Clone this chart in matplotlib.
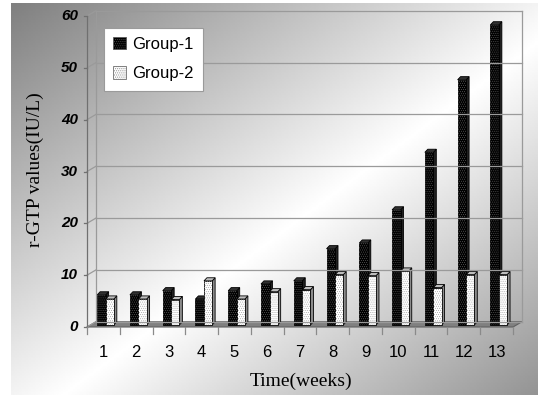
import numpy as np
import matplotlib
matplotlib.use("Agg")
from matplotlib import pyplot as plt
from matplotlib.patches import Polygon, Rectangle, Patch

plt.rcParams['hatch.linewidth'] = 0.4

weeks = [1, 2, 3, 4, 5, 6, 7, 8, 9, 10, 11, 12, 13]
group1 = [5.8, 5.8, 6.6, 5.0, 6.6, 7.9, 8.5, 14.7, 15.8, 22.2, 33.3, 47.3, 57.9]
group2 = [5.0, 5.0, 4.9, 8.5, 5.0, 6.4, 6.8, 9.7, 9.5, 10.4, 7.2, 9.7, 9.7]
yticks = [0, 10, 20, 30, 40, 50, 60]

W, H = 538, 395
# depth of the back wall and of each column, in data units
DX, DY = 0.27, 1.0
BDX, BDY = 0.09, 0.6
BASE = DY - BDY
DOTS = '........'

fig = plt.figure(figsize=(W / 100, H / 100), dpi=100)

# diagonal grey-white-grey background
bg = fig.add_axes([0, 0, 1, 1])
bg.set_xlim(0, W)
bg.set_ylim(H, 0)
bg.axis('off')
xx, yy = np.meshgrid(np.linspace(0, 1, 300), np.linspace(0, 1, 220))
t = (xx + yy) / 2
shade = np.where(t < 0.55, 0.5 + 0.5 * t / 0.55, 1.0 - 0.42 * (t - 0.55) / 0.45)
bg.imshow(shade, cmap='gray', vmin=0, vmax=1, extent=(11, W, H, 3), aspect='auto')

ax = fig.add_axes([87 / W, (H - 327) / H, (513 - 87) / W, (327 - 16) / H])
ax.set_xlim(0.5, 13.5)
ax.set_ylim(0, 60)
ax.axis('off')

x_lo, x_hi = 0.5, len(weeks) + 0.5
grid_c = '#9a9a9a'

# back wall and gridlines
for v in yticks:
    ax.plot([x_lo + DX, x_hi + DX], [v + DY, v + DY], color=grid_c, lw=0.9, clip_on=False)
    ax.plot([x_lo, x_lo + DX], [v, v + DY], color=grid_c, lw=0.9, clip_on=False)
    ax.plot([x_lo - 0.1, x_lo], [v, v], color='#707070', lw=0.9, clip_on=False)
ax.plot([x_lo + DX, x_lo + DX], [DY, 60 + DY], color=grid_c, lw=0.9, clip_on=False)
ax.plot([x_hi + DX, x_hi + DX], [DY, 60 + DY], color=grid_c, lw=0.9, clip_on=False)
ax.plot([x_lo, x_lo], [0, 60], color='#707070', lw=0.9, clip_on=False)

# floor
ax.add_patch(Polygon([(x_lo, 0), (x_hi, 0), (x_hi + DX, DY), (x_lo + DX, DY)],
                     closed=True, facecolor='#808080', edgecolor='#606060', lw=0.8,
                     clip_on=False))
for k in range(len(weeks) + 1):
    ax.plot([x_lo + k, x_lo + k], [0, -1.3], color='#8a8a8a', lw=0.9, clip_on=False)


def column(x0, w, v, face, side, top, dots):
    x1 = x0 + w
    yt = v + BASE
    ax.add_patch(Polygon([(x1, BASE), (x1 + BDX, BASE + BDY), (x1 + BDX, yt + BDY), (x1, yt)],
                         closed=True, facecolor=side, edgecolor='black', lw=0.6, clip_on=False))
    ax.add_patch(Polygon([(x0, yt), (x1, yt), (x1 + BDX, yt + BDY), (x0 + BDX, yt + BDY)],
                         closed=True, facecolor=top, edgecolor='black', lw=0.6, clip_on=False))
    ax.add_patch(Rectangle((x0, BASE), w, v, facecolor=face, edgecolor='black', lw=0.6,
                           clip_on=False))
    ax.add_patch(Rectangle((x0, BASE), w, v, facecolor='none', edgecolor=dots, lw=0,
                           hatch=DOTS, clip_on=False))


for wk, a, b in zip(weeks, group1, group2):
    column(wk - 0.19, 0.26, a, 'black', '#202020', '#303030', '#5a5a5a')
    column(wk + 0.07, 0.25, b, 'white', '#8c8c8c', '#bdbdbd', '#a0a0a0')

# tick labels
for v in yticks:
    ax.text(x_lo - 0.28, v, str(v), ha='right', va='center', fontsize=11,
            fontweight='bold', fontstyle='italic', family='Liberation Sans', clip_on=False)
for wk in weeks:
    ax.text(wk, -3.5, str(wk), ha='center', va='top', fontsize=12,
            family='Liberation Sans', clip_on=False)

fig.text(35 / W, 1 - 170 / H, 'r-GTP values(IU/L)', rotation=90, ha='center', va='center',
         fontsize=14, family='Liberation Serif')
fig.text(301 / W, 1 - 381 / H, 'Time(weeks)', ha='center', va='center',
         fontsize=14, family='Liberation Serif')

handles = [Patch(facecolor='black', edgecolor='#5a5a5a', hatch=DOTS, lw=0.6),
           Patch(facecolor='white', edgecolor='#707070', hatch=DOTS, lw=0.6)]
leg = fig.legend(handles, ['Group-1', 'Group-2'], loc='upper left',
                 bbox_to_anchor=(104 / W, 1 - 28 / H), fancybox=False, framealpha=1,
                 edgecolor='#9a9a9a', prop={'family': 'Liberation Sans', 'size': 12},
                 handlelength=0.75, handleheight=0.75, handletextpad=0.4,
                 labelspacing=0.85, borderpad=0.55, borderaxespad=0)
leg.get_frame().set_linewidth(0.8)

fig.savefig('out.png', dpi=100)
